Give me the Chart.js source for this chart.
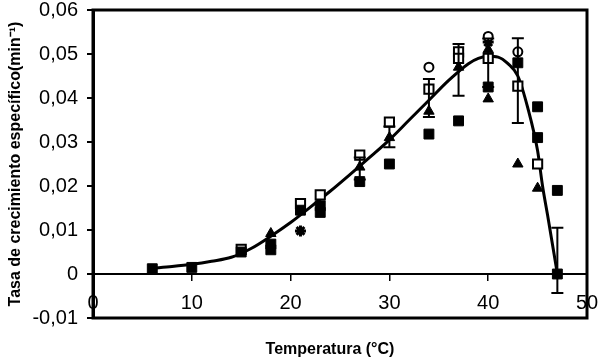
<!DOCTYPE html>
<html><head><meta charset="utf-8">
<script src="https://cdn.jsdelivr.net/npm/chart.js@4/dist/chart.umd.min.js"></script>
<style>html,body{margin:0;padding:0;background:#fff}#wrap{width:599px;height:362px}</style>
</head><body><div id="wrap"><canvas id="c" width="599" height="362"></canvas></div>
<script>
// Fitted model curve
const curveT = [6, 8, 10, 12, 14, 16, 18, 20, 22, 24, 26, 28, 30, 32, 34, 36, 38, 39, 40, 41, 42, 43, 44, 45, 45.5, 46, 47];
const curveR = [0.0013, 0.0017, 0.0022, 0.0029, 0.0038, 0.0058, 0.0086, 0.0117, 0.0152, 0.0188, 0.0226, 0.0265, 0.0305, 0.0350, 0.0395, 0.0440, 0.0478, 0.0490, 0.0495, 0.0493, 0.0478, 0.0450, 0.0378, 0.0280, 0.0200, 0.0135, 0.0];
// Filled squares
const sqFilledT = [6, 10, 15, 18, 18, 21, 23, 23, 27, 30, 34, 37, 40, 43, 45, 45, 47, 47];
const sqFilledR = [0.0012, 0.0015, 0.005, 0.0055, 0.0068, 0.0145, 0.014, 0.0155, 0.021, 0.025, 0.0318, 0.0348, 0.0425, 0.048, 0.038, 0.031, 0.019, 0.0];
// Open squares
const sqOpenT = [15, 21, 23, 27, 30, 34, 37, 37, 40, 43, 45];
const sqOpenR = [0.0056, 0.016, 0.018, 0.027, 0.0345, 0.042, 0.0505, 0.049, 0.049, 0.0427, 0.025];
// Filled triangles
const triT = [18, 27, 30, 34, 37, 40, 40, 43, 45];
const triR = [0.0092, 0.0243, 0.031, 0.037, 0.047, 0.051, 0.0398, 0.025, 0.0195];
// Open circles
const circT = [34, 40, 43];
const circR = [0.047, 0.054, 0.0505];
// Stars
const starT = [21, 40];
const starR = [0.0098, 0.0527];
// Error bars
const errT = [27, 30, 34, 37, 40, 43, 47];
const errLo = [0.0215, 0.0288, 0.0357, 0.0405, 0.0425, 0.0343, -0.0043];
const errHi = [0.0265, 0.0335, 0.0443, 0.0523, 0.0535, 0.0536, 0.0105];
// Tick labels
const xTickLabels = ['0', '10', '20', '30', '40', '50'];
const yTickLabels = ['-0,01', '0', '0,01', '0,02', '0,03', '0,04', '0,05', '0,06'];

const pts = (t, r) => t.map((v, i) => ({x: v, y: r[i]}));
const FONT = "'Liberation Sans', Arial, sans-serif";

const errorBars = {
  id: 'errorBars',
  afterDatasetsDraw(chart) {
    const ctx = chart.ctx, xs = chart.scales.x, ys = chart.scales.y;
    ctx.save();
    ctx.strokeStyle = '#000';
    ctx.lineWidth = 2;
    errT.forEach((t, i) => {
      const px = xs.getPixelForValue(t);
      const p1 = ys.getPixelForValue(errLo[i]);
      const p2 = ys.getPixelForValue(errHi[i]);
      ctx.beginPath();
      ctx.moveTo(px, p1); ctx.lineTo(px, p2);
      ctx.moveTo(px - 6, p1); ctx.lineTo(px + 6, p1);
      ctx.moveTo(px - 6, p2); ctx.lineTo(px + 6, p2);
      ctx.stroke();
    });
    ctx.restore();
  }
};
const frame = {
  id: 'frame',
  afterDraw(chart) {
    const a = chart.chartArea, ctx = chart.ctx;
    ctx.save();
    ctx.strokeStyle = '#000';
    ctx.lineWidth = 3;
    ctx.strokeRect(a.left, a.top, a.right - a.left, a.bottom - a.top);
    ctx.fillStyle = '#000';
    ctx.font = 'bold 16px ' + FONT;
    ctx.textAlign = 'center';
    ctx.textBaseline = 'middle';
    ctx.fillText('Temperatura (°C)', 330, 350);
    ctx.restore();
  }
};

new Chart(document.getElementById('c'), {
  type: 'scatter',
  data: {
    datasets: [
      {label: 'Modelo', type: 'line', data: pts(curveT, curveR), borderColor: '#000', borderWidth: 3, pointRadius: 0, fill: false, cubicInterpolationMode: 'monotone', order: 10},
      {label: 'Cuadrado lleno', data: pts(sqFilledT, sqFilledR), pointStyle: 'rect', pointRadius: 7, backgroundColor: '#000', borderColor: '#000', borderWidth: 1},
      {label: 'Cuadrado abierto', data: pts(sqOpenT, sqOpenR), pointStyle: 'rect', pointRadius: 6.5, backgroundColor: '#fff', borderColor: '#000', borderWidth: 2},
      {label: 'Triángulo', data: pts(triT, triR), pointStyle: 'triangle', pointRadius: 6, backgroundColor: '#000', borderColor: '#000', borderWidth: 1},
      {label: 'Círculo', data: pts(circT, circR), pointStyle: 'circle', pointRadius: 4.5, backgroundColor: '#fff', borderColor: '#000', borderWidth: 2},
      {label: 'Estrella', data: pts(starT, starR), pointStyle: 'star', pointRadius: 5.5, backgroundColor: '#000', borderColor: '#000', borderWidth: 3}
    ]
  },
  options: {
    responsive: false,
    animation: false,
    events: [],
    layout: {padding: {left: 0, right: 12, top: 10, bottom: 44}},
    plugins: {legend: {display: false}, tooltip: {enabled: false}},
    scales: {
      x: {
        type: 'linear', min: 0, max: 50, position: {y: 0},
        afterFit: (s) => { s.paddingLeft = 0; s.paddingRight = 0; s.paddingTop = 0; s.paddingBottom = 0; },
        ticks: {stepSize: 10, color: '#000', font: {family: FONT, size: 20}, padding: 11, maxRotation: 0,
          callback: (v) => xTickLabels[Math.round(v / 10)]},
        grid: {drawOnChartArea: false, drawTicks: true, tickLength: 6, color: '#000', lineWidth: 1.5},
        border: {display: true, color: '#000', width: 2}
      },
      y: {
        type: 'linear', min: -0.01, max: 0.06, position: 'left',
        afterFit: (s) => { s.width = 93; s.paddingTop = 0; s.paddingBottom = 0; },
        ticks: {stepSize: 0.01, color: '#000', font: {family: FONT, size: 20}, padding: 9,
          callback: (v) => yTickLabels[Math.round(v * 100) + 1]},
        grid: {drawOnChartArea: false, drawTicks: true, tickLength: 6, color: '#000', lineWidth: 2},
        border: {display: true, color: '#000', width: 3},
        title: {display: true, text: 'Tasa de crecimiento específico(min⁻¹)', color: '#000',
          font: {family: FONT, size: 16, weight: 'bold'}, padding: {top: 6, bottom: 0}}
      }
    }
  },
  plugins: [errorBars, frame]
});
</script>
</body></html>
